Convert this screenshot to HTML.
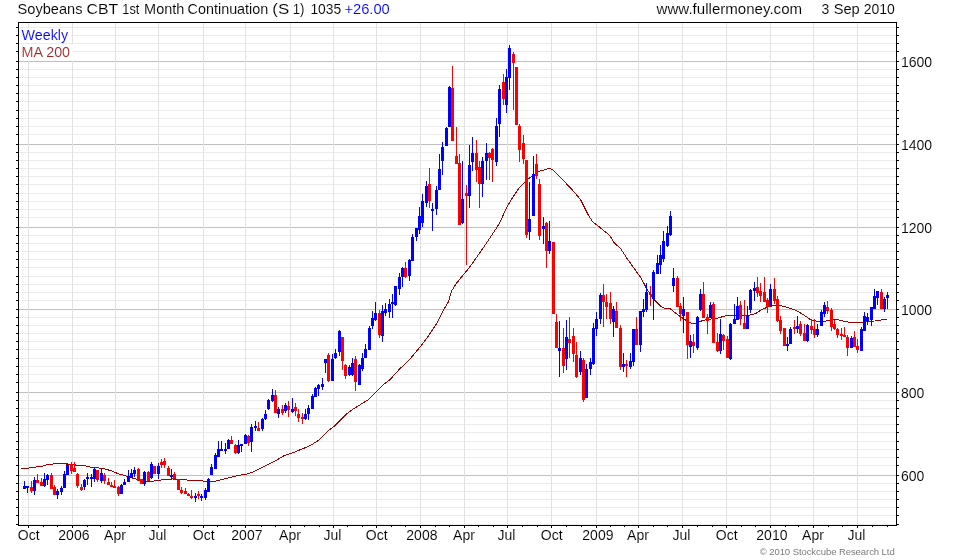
<!DOCTYPE html><html><head><meta charset="utf-8"><title>Soybeans CBT 1st Month Continuation</title>
<style>html,body{margin:0;padding:0;background:#fff}svg{display:block}text{font-family:"Liberation Sans",sans-serif;stroke:#fff;stroke-width:.1px}</style></head><body>
<svg width="980" height="560" viewBox="0 0 980 560">
<rect x="0" y="0" width="980" height="560" fill="#fff"/>
<g shape-rendering="crispEdges">
<rect x="19" y="27" width="877" height="1" fill="#ebebeb"/>
<rect x="19" y="35" width="877" height="1" fill="#ebebeb"/>
<rect x="19" y="43" width="877" height="1" fill="#ebebeb"/>
<rect x="19" y="51" width="877" height="1" fill="#ebebeb"/>
<rect x="19" y="69" width="877" height="1" fill="#ebebeb"/>
<rect x="19" y="77" width="877" height="1" fill="#ebebeb"/>
<rect x="19" y="85" width="877" height="1" fill="#ebebeb"/>
<rect x="19" y="93" width="877" height="1" fill="#ebebeb"/>
<rect x="19" y="101" width="877" height="1" fill="#ebebeb"/>
<rect x="19" y="110" width="877" height="1" fill="#ebebeb"/>
<rect x="19" y="118" width="877" height="1" fill="#ebebeb"/>
<rect x="19" y="126" width="877" height="1" fill="#ebebeb"/>
<rect x="19" y="134" width="877" height="1" fill="#ebebeb"/>
<rect x="19" y="152" width="877" height="1" fill="#ebebeb"/>
<rect x="19" y="160" width="877" height="1" fill="#ebebeb"/>
<rect x="19" y="168" width="877" height="1" fill="#ebebeb"/>
<rect x="19" y="176" width="877" height="1" fill="#ebebeb"/>
<rect x="19" y="184" width="877" height="1" fill="#ebebeb"/>
<rect x="19" y="193" width="877" height="1" fill="#ebebeb"/>
<rect x="19" y="201" width="877" height="1" fill="#ebebeb"/>
<rect x="19" y="209" width="877" height="1" fill="#ebebeb"/>
<rect x="19" y="217" width="877" height="1" fill="#ebebeb"/>
<rect x="19" y="235" width="877" height="1" fill="#ebebeb"/>
<rect x="19" y="243" width="877" height="1" fill="#ebebeb"/>
<rect x="19" y="251" width="877" height="1" fill="#ebebeb"/>
<rect x="19" y="259" width="877" height="1" fill="#ebebeb"/>
<rect x="19" y="267" width="877" height="1" fill="#ebebeb"/>
<rect x="19" y="276" width="877" height="1" fill="#ebebeb"/>
<rect x="19" y="284" width="877" height="1" fill="#ebebeb"/>
<rect x="19" y="292" width="877" height="1" fill="#ebebeb"/>
<rect x="19" y="300" width="877" height="1" fill="#ebebeb"/>
<rect x="19" y="317" width="877" height="1" fill="#ebebeb"/>
<rect x="19" y="325" width="877" height="1" fill="#ebebeb"/>
<rect x="19" y="333" width="877" height="1" fill="#ebebeb"/>
<rect x="19" y="341" width="877" height="1" fill="#ebebeb"/>
<rect x="19" y="349" width="877" height="1" fill="#ebebeb"/>
<rect x="19" y="358" width="877" height="1" fill="#ebebeb"/>
<rect x="19" y="366" width="877" height="1" fill="#ebebeb"/>
<rect x="19" y="374" width="877" height="1" fill="#ebebeb"/>
<rect x="19" y="382" width="877" height="1" fill="#ebebeb"/>
<rect x="19" y="400" width="877" height="1" fill="#ebebeb"/>
<rect x="19" y="408" width="877" height="1" fill="#ebebeb"/>
<rect x="19" y="416" width="877" height="1" fill="#ebebeb"/>
<rect x="19" y="424" width="877" height="1" fill="#ebebeb"/>
<rect x="19" y="432" width="877" height="1" fill="#ebebeb"/>
<rect x="19" y="441" width="877" height="1" fill="#ebebeb"/>
<rect x="19" y="449" width="877" height="1" fill="#ebebeb"/>
<rect x="19" y="457" width="877" height="1" fill="#ebebeb"/>
<rect x="19" y="465" width="877" height="1" fill="#ebebeb"/>
<rect x="19" y="483" width="877" height="1" fill="#ebebeb"/>
<rect x="19" y="491" width="877" height="1" fill="#ebebeb"/>
<rect x="19" y="499" width="877" height="1" fill="#ebebeb"/>
<rect x="19" y="507" width="877" height="1" fill="#ebebeb"/>
<rect x="19" y="515" width="877" height="1" fill="#ebebeb"/>
<rect x="19" y="524" width="877" height="1" fill="#ebebeb"/>
<rect x="19" y="61" width="877" height="1" fill="#c0c0c0"/>
<rect x="19" y="144" width="877" height="1" fill="#c0c0c0"/>
<rect x="19" y="227" width="877" height="1" fill="#c0c0c0"/>
<rect x="19" y="309" width="877" height="1" fill="#c0c0c0"/>
<rect x="19" y="392" width="877" height="1" fill="#c0c0c0"/>
<rect x="19" y="475" width="877" height="1" fill="#c0c0c0"/>
<rect x="28" y="23" width="1" height="501" fill="#e1e1e1"/>
<rect x="72" y="23" width="1" height="501" fill="#e1e1e1"/>
<rect x="115" y="23" width="1" height="501" fill="#e1e1e1"/>
<rect x="158" y="23" width="1" height="501" fill="#e1e1e1"/>
<rect x="203" y="23" width="1" height="501" fill="#e1e1e1"/>
<rect x="245" y="23" width="1" height="501" fill="#e1e1e1"/>
<rect x="290" y="23" width="1" height="501" fill="#e1e1e1"/>
<rect x="333" y="23" width="1" height="501" fill="#e1e1e1"/>
<rect x="376" y="23" width="1" height="501" fill="#e1e1e1"/>
<rect x="420" y="23" width="1" height="501" fill="#e1e1e1"/>
<rect x="464" y="23" width="1" height="501" fill="#e1e1e1"/>
<rect x="507" y="23" width="1" height="501" fill="#e1e1e1"/>
<rect x="551" y="23" width="1" height="501" fill="#e1e1e1"/>
<rect x="596" y="23" width="1" height="501" fill="#e1e1e1"/>
<rect x="638" y="23" width="1" height="501" fill="#e1e1e1"/>
<rect x="682" y="23" width="1" height="501" fill="#e1e1e1"/>
<rect x="726" y="23" width="1" height="501" fill="#e1e1e1"/>
<rect x="770" y="23" width="1" height="501" fill="#e1e1e1"/>
<rect x="813" y="23" width="1" height="501" fill="#e1e1e1"/>
<rect x="857" y="23" width="1" height="501" fill="#e1e1e1"/>
</g>
<rect x="19" y="28" width="52" height="15" fill="#fff"/><rect x="19" y="44" width="54" height="17" fill="#fff"/>
<polyline points="21.0,468.5 28.9,468.5 29.1,467.5 35.9,467.5 36.1,466.5 42.9,466.5 43.1,465.5 45.9,465.5 46.1,464.5 52.9,464.5 53.1,463.5 66.4,463.5 66.6,464.5 75.4,464.5 75.6,465.5 85.9,465.5 86.1,466.5 93.7,467.4 103.7,468.6 110.9,470.7 118.0,473.6 126.6,476.1 136.6,479.3 143.7,481.4 150.9,481.4 158.3,480.4 165.4,479.3 172.6,479.0 176.9,479.3 186.9,480.0 204.0,481.1 215.4,481.1 222.6,479.3 229.7,477.6 236.9,475.7 246.1,474.3 252.6,472.1 261.1,467.9 268.3,464.3 276.9,460.0 284.0,455.7 290.7,453.6 298.6,450.4 305.7,447.5 312.9,443.9 320.0,439.3 325.0,434.3 330.0,429.3 335.7,425.0 341.4,419.3 347.1,413.6 352.9,409.3 358.6,405.7 364.3,402.1 368.6,399.6 375.7,392.1 382.9,385.0 390.0,379.6 399.3,369.3 408.6,360.7 420.0,347.1 428.6,335.7 437.1,322.9 444.3,308.6 448.6,301.4 451.4,291.4 455.7,284.3 461.4,277.1 468.6,268.6 475.7,258.6 484.3,246.4 491.4,235.7 497.1,227.1 500.7,220.7 505.7,209.3 511.4,199.3 518.6,188.6 525.7,181.0 532.9,175.3 538.6,171.4 544.3,170.0 549.3,168.3 552.9,170.0 558.6,175.7 565.7,182.9 574.3,192.1 580.7,200.0 584.3,207.1 588.6,215.7 592.9,222.1 598.6,226.4 610.0,235.7 614.3,242.9 620.7,248.6 627.1,258.6 634.3,268.6 641.4,278.6 647.1,289.5 654.3,300.0 658.6,304.3 662.9,307.9 670.0,308.5 677.1,314.3 684.3,319.3 691.4,323.1 697.1,323.1 702.9,320.3 711.4,318.9 718.6,317.9 725.7,315.7 737.1,315.4 748.6,315.4 755.7,313.6 762.9,308.9 768.6,306.9 774.3,305.3 781.4,305.7 788.6,307.9 795.7,310.4 802.9,314.3 810.0,319.3 817.1,321.4 824.3,321.4 831.4,319.7 837.1,319.3 842.9,321.1 850.0,322.4 860.0,322.4 868.6,321.7 877.1,320.7 882.9,319.7 886.9,319.3" fill="none" stroke="#990000" stroke-width="1" shape-rendering="crispEdges"/>
<g shape-rendering="crispEdges">
<rect x="24" y="481" width="1" height="8" fill="#0000ff"/><rect x="23" y="486" width="3" height="3" fill="#0000ff"/>
<rect x="27" y="486" width="1" height="7" fill="#0000ff"/><rect x="26" y="486" width="3" height="2" fill="#0000ff"/>
<rect x="31" y="481" width="1" height="12" fill="#ff0000"/><rect x="30" y="487" width="3" height="4" fill="#ff0000"/>
<rect x="34" y="477" width="1" height="18" fill="#0000ff"/><rect x="33" y="480" width="3" height="11" fill="#0000ff"/>
<rect x="37" y="474" width="1" height="9" fill="#ff0000"/><rect x="36" y="480" width="3" height="3" fill="#ff0000"/>
<rect x="41" y="478" width="1" height="8" fill="#ff0000"/><rect x="40" y="482" width="3" height="4" fill="#ff0000"/>
<rect x="44" y="473" width="1" height="14" fill="#0000ff"/><rect x="43" y="479" width="3" height="7" fill="#0000ff"/>
<rect x="47" y="474" width="1" height="11" fill="#0000ff"/><rect x="46" y="475" width="3" height="5" fill="#0000ff"/>
<rect x="51" y="473" width="1" height="16" fill="#ff0000"/><rect x="50" y="475" width="3" height="14" fill="#ff0000"/>
<rect x="54" y="485" width="1" height="10" fill="#ff0000"/><rect x="53" y="487" width="3" height="8" fill="#ff0000"/>
<rect x="57" y="489" width="1" height="10" fill="#0000ff"/><rect x="56" y="491" width="3" height="4" fill="#0000ff"/>
<rect x="61" y="486" width="1" height="9" fill="#0000ff"/><rect x="60" y="488" width="3" height="4" fill="#0000ff"/>
<rect x="64" y="471" width="1" height="17" fill="#0000ff"/><rect x="63" y="474" width="3" height="14" fill="#0000ff"/>
<rect x="67" y="463" width="1" height="12" fill="#0000ff"/><rect x="66" y="465" width="3" height="10" fill="#0000ff"/>
<rect x="71" y="462" width="1" height="12" fill="#ff0000"/><rect x="70" y="464" width="3" height="7" fill="#ff0000"/>
<rect x="74" y="462" width="1" height="10" fill="#ff0000"/><rect x="73" y="468" width="3" height="4" fill="#ff0000"/>
<rect x="77" y="473" width="1" height="15" fill="#ff0000"/><rect x="76" y="474" width="3" height="12" fill="#ff0000"/>
<rect x="81" y="484" width="1" height="7" fill="#ff0000"/><rect x="80" y="487" width="3" height="3" fill="#ff0000"/>
<rect x="84" y="479" width="1" height="11" fill="#0000ff"/><rect x="83" y="480" width="3" height="7" fill="#0000ff"/>
<rect x="87" y="473" width="1" height="12" fill="#0000ff"/><rect x="86" y="477" width="3" height="2" fill="#0000ff"/>
<rect x="91" y="474" width="1" height="13" fill="#0000ff"/><rect x="90" y="477" width="3" height="2" fill="#0000ff"/>
<rect x="94" y="468" width="1" height="14" fill="#0000ff"/><rect x="93" y="469" width="3" height="10" fill="#0000ff"/>
<rect x="97" y="470" width="1" height="12" fill="#ff0000"/><rect x="96" y="470" width="3" height="10" fill="#ff0000"/>
<rect x="101" y="469" width="1" height="14" fill="#0000ff"/><rect x="100" y="473" width="3" height="8" fill="#0000ff"/>
<rect x="104" y="473" width="1" height="11" fill="#ff0000"/><rect x="103" y="475" width="3" height="6" fill="#ff0000"/>
<rect x="108" y="478" width="1" height="7" fill="#ff0000"/><rect x="107" y="482" width="3" height="3" fill="#ff0000"/>
<rect x="111" y="482" width="1" height="5" fill="#ff0000"/><rect x="110" y="485" width="3" height="2" fill="#ff0000"/>
<rect x="114" y="480" width="1" height="8" fill="#ff0000"/><rect x="113" y="486" width="3" height="2" fill="#ff0000"/>
<rect x="118" y="486" width="1" height="10" fill="#ff0000"/><rect x="117" y="487" width="3" height="7" fill="#ff0000"/>
<rect x="121" y="484" width="1" height="10" fill="#0000ff"/><rect x="120" y="485" width="3" height="9" fill="#0000ff"/>
<rect x="124" y="479" width="1" height="6" fill="#0000ff"/><rect x="123" y="482" width="3" height="3" fill="#0000ff"/>
<rect x="128" y="470" width="1" height="12" fill="#0000ff"/><rect x="127" y="476" width="3" height="6" fill="#0000ff"/>
<rect x="131" y="469" width="1" height="9" fill="#0000ff"/><rect x="130" y="473" width="3" height="5" fill="#0000ff"/>
<rect x="134" y="467" width="1" height="10" fill="#0000ff"/><rect x="133" y="470" width="3" height="4" fill="#0000ff"/>
<rect x="138" y="468" width="1" height="13" fill="#ff0000"/><rect x="137" y="469" width="3" height="12" fill="#ff0000"/>
<rect x="141" y="479" width="1" height="5" fill="#ff0000"/><rect x="140" y="479" width="3" height="5" fill="#ff0000"/>
<rect x="144" y="471" width="1" height="15" fill="#0000ff"/><rect x="143" y="472" width="3" height="12" fill="#0000ff"/>
<rect x="148" y="471" width="1" height="10" fill="#ff0000"/><rect x="147" y="472" width="3" height="9" fill="#ff0000"/>
<rect x="151" y="462" width="1" height="17" fill="#0000ff"/><rect x="150" y="464" width="3" height="14" fill="#0000ff"/>
<rect x="154" y="466" width="1" height="8" fill="#ff0000"/><rect x="153" y="466" width="3" height="8" fill="#ff0000"/>
<rect x="158" y="463" width="1" height="16" fill="#0000ff"/><rect x="157" y="466" width="3" height="8" fill="#0000ff"/>
<rect x="161" y="459" width="1" height="9" fill="#ff0000"/><rect x="160" y="462" width="3" height="3" fill="#ff0000"/>
<rect x="164" y="458" width="1" height="10" fill="#ff0000"/><rect x="163" y="461" width="3" height="4" fill="#ff0000"/>
<rect x="168" y="466" width="1" height="10" fill="#ff0000"/><rect x="167" y="468" width="3" height="8" fill="#ff0000"/>
<rect x="171" y="469" width="1" height="10" fill="#0000ff"/><rect x="170" y="475" width="3" height="2" fill="#0000ff"/>
<rect x="174" y="472" width="1" height="8" fill="#ff0000"/><rect x="173" y="474" width="3" height="5" fill="#ff0000"/>
<rect x="178" y="479" width="1" height="11" fill="#ff0000"/><rect x="177" y="479" width="3" height="11" fill="#ff0000"/>
<rect x="181" y="487" width="1" height="7" fill="#ff0000"/><rect x="180" y="490" width="3" height="3" fill="#ff0000"/>
<rect x="185" y="488" width="1" height="6" fill="#ff0000"/><rect x="184" y="491" width="3" height="3" fill="#ff0000"/>
<rect x="188" y="493" width="1" height="3" fill="#ff0000"/><rect x="187" y="494" width="3" height="2" fill="#ff0000"/>
<rect x="191" y="490" width="1" height="9" fill="#ff0000"/><rect x="190" y="496" width="3" height="2" fill="#ff0000"/>
<rect x="195" y="493" width="1" height="9" fill="#0000ff"/><rect x="194" y="496" width="3" height="2" fill="#0000ff"/>
<rect x="198" y="491" width="1" height="8" fill="#ff0000"/><rect x="197" y="494" width="3" height="2" fill="#ff0000"/>
<rect x="201" y="494" width="1" height="7" fill="#0000ff"/><rect x="200" y="496" width="3" height="2" fill="#0000ff"/>
<rect x="205" y="488" width="1" height="12" fill="#0000ff"/><rect x="204" y="490" width="3" height="8" fill="#0000ff"/>
<rect x="208" y="478" width="1" height="14" fill="#0000ff"/><rect x="207" y="479" width="3" height="13" fill="#0000ff"/>
<rect x="211" y="464" width="1" height="11" fill="#0000ff"/><rect x="210" y="467" width="3" height="8" fill="#0000ff"/>
<rect x="215" y="453" width="1" height="16" fill="#0000ff"/><rect x="214" y="455" width="3" height="14" fill="#0000ff"/>
<rect x="218" y="441" width="1" height="16" fill="#0000ff"/><rect x="217" y="449" width="3" height="8" fill="#0000ff"/>
<rect x="221" y="441" width="1" height="10" fill="#0000ff"/><rect x="220" y="449" width="3" height="2" fill="#0000ff"/>
<rect x="225" y="443" width="1" height="11" fill="#0000ff"/><rect x="224" y="449" width="3" height="2" fill="#0000ff"/>
<rect x="228" y="439" width="1" height="10" fill="#0000ff"/><rect x="227" y="440" width="3" height="9" fill="#0000ff"/>
<rect x="231" y="436" width="1" height="8" fill="#ff0000"/><rect x="230" y="440" width="3" height="4" fill="#ff0000"/>
<rect x="235" y="444" width="1" height="10" fill="#ff0000"/><rect x="234" y="445" width="3" height="8" fill="#ff0000"/>
<rect x="238" y="440" width="1" height="14" fill="#0000ff"/><rect x="237" y="445" width="3" height="8" fill="#0000ff"/>
<rect x="241" y="444" width="1" height="8" fill="#0000ff"/><rect x="240" y="444" width="3" height="2" fill="#0000ff"/>
<rect x="245" y="434" width="1" height="10" fill="#0000ff"/><rect x="244" y="435" width="3" height="9" fill="#0000ff"/>
<rect x="248" y="435" width="1" height="11" fill="#ff0000"/><rect x="247" y="436" width="3" height="7" fill="#ff0000"/>
<rect x="251" y="424" width="1" height="28" fill="#0000ff"/><rect x="250" y="427" width="3" height="15" fill="#0000ff"/>
<rect x="255" y="421" width="1" height="10" fill="#0000ff"/><rect x="254" y="426" width="3" height="2" fill="#0000ff"/>
<rect x="258" y="422" width="1" height="9" fill="#ff0000"/><rect x="257" y="428" width="3" height="3" fill="#ff0000"/>
<rect x="262" y="418" width="1" height="13" fill="#0000ff"/><rect x="261" y="419" width="3" height="10" fill="#0000ff"/>
<rect x="265" y="410" width="1" height="10" fill="#0000ff"/><rect x="264" y="414" width="3" height="5" fill="#0000ff"/>
<rect x="268" y="399" width="1" height="11" fill="#0000ff"/><rect x="267" y="400" width="3" height="9" fill="#0000ff"/>
<rect x="272" y="389" width="1" height="13" fill="#0000ff"/><rect x="271" y="395" width="3" height="6" fill="#0000ff"/>
<rect x="275" y="390" width="1" height="23" fill="#ff0000"/><rect x="274" y="395" width="3" height="18" fill="#ff0000"/>
<rect x="278" y="407" width="1" height="11" fill="#0000ff"/><rect x="277" y="409" width="3" height="5" fill="#0000ff"/>
<rect x="282" y="405" width="1" height="10" fill="#ff0000"/><rect x="281" y="409" width="3" height="4" fill="#ff0000"/>
<rect x="285" y="403" width="1" height="10" fill="#0000ff"/><rect x="284" y="405" width="3" height="6" fill="#0000ff"/>
<rect x="288" y="401" width="1" height="16" fill="#ff0000"/><rect x="287" y="406" width="3" height="4" fill="#ff0000"/>
<rect x="292" y="398" width="1" height="15" fill="#0000ff"/><rect x="291" y="409" width="3" height="3" fill="#0000ff"/>
<rect x="295" y="403" width="1" height="13" fill="#ff0000"/><rect x="294" y="407" width="3" height="4" fill="#ff0000"/>
<rect x="298" y="409" width="1" height="13" fill="#ff0000"/><rect x="297" y="414" width="3" height="4" fill="#ff0000"/>
<rect x="302" y="413" width="1" height="11" fill="#ff0000"/><rect x="301" y="417" width="3" height="2" fill="#ff0000"/>
<rect x="305" y="409" width="1" height="11" fill="#0000ff"/><rect x="304" y="414" width="3" height="5" fill="#0000ff"/>
<rect x="308" y="405" width="1" height="15" fill="#0000ff"/><rect x="307" y="408" width="3" height="6" fill="#0000ff"/>
<rect x="312" y="394" width="1" height="15" fill="#0000ff"/><rect x="311" y="396" width="3" height="13" fill="#0000ff"/>
<rect x="315" y="387" width="1" height="10" fill="#0000ff"/><rect x="314" y="388" width="3" height="9" fill="#0000ff"/>
<rect x="318" y="384" width="1" height="12" fill="#0000ff"/><rect x="317" y="385" width="3" height="4" fill="#0000ff"/>
<rect x="322" y="378" width="1" height="12" fill="#0000ff"/><rect x="321" y="384" width="3" height="3" fill="#0000ff"/>
<rect x="325" y="359" width="1" height="14" fill="#0000ff"/><rect x="324" y="359" width="3" height="4" fill="#0000ff"/>
<rect x="328" y="353" width="1" height="29" fill="#ff0000"/><rect x="327" y="355" width="3" height="26" fill="#ff0000"/>
<rect x="332" y="354" width="1" height="27" fill="#0000ff"/><rect x="331" y="359" width="3" height="22" fill="#0000ff"/>
<rect x="335" y="349" width="1" height="10" fill="#0000ff"/><rect x="334" y="353" width="3" height="5" fill="#0000ff"/>
<rect x="339" y="330" width="1" height="26" fill="#0000ff"/><rect x="338" y="331" width="3" height="21" fill="#0000ff"/>
<rect x="342" y="337" width="1" height="33" fill="#ff0000"/><rect x="341" y="337" width="3" height="24" fill="#ff0000"/>
<rect x="345" y="364" width="1" height="15" fill="#ff0000"/><rect x="344" y="365" width="3" height="11" fill="#ff0000"/>
<rect x="349" y="365" width="1" height="11" fill="#0000ff"/><rect x="348" y="367" width="3" height="8" fill="#0000ff"/>
<rect x="352" y="358" width="1" height="18" fill="#0000ff"/><rect x="351" y="363" width="3" height="12" fill="#0000ff"/>
<rect x="355" y="356" width="1" height="35" fill="#ff0000"/><rect x="354" y="359" width="3" height="23" fill="#ff0000"/>
<rect x="359" y="364" width="1" height="21" fill="#0000ff"/><rect x="358" y="365" width="3" height="20" fill="#0000ff"/>
<rect x="362" y="353" width="1" height="18" fill="#0000ff"/><rect x="361" y="358" width="3" height="11" fill="#0000ff"/>
<rect x="365" y="344" width="1" height="14" fill="#0000ff"/><rect x="364" y="349" width="3" height="9" fill="#0000ff"/>
<rect x="369" y="326" width="1" height="24" fill="#0000ff"/><rect x="368" y="328" width="3" height="22" fill="#0000ff"/>
<rect x="372" y="311" width="1" height="18" fill="#0000ff"/><rect x="371" y="318" width="3" height="8" fill="#0000ff"/>
<rect x="375" y="302" width="1" height="19" fill="#0000ff"/><rect x="374" y="313" width="3" height="7" fill="#0000ff"/>
<rect x="379" y="310" width="1" height="28" fill="#ff0000"/><rect x="378" y="313" width="3" height="22" fill="#ff0000"/>
<rect x="382" y="305" width="1" height="37" fill="#0000ff"/><rect x="381" y="311" width="3" height="25" fill="#0000ff"/>
<rect x="385" y="303" width="1" height="13" fill="#0000ff"/><rect x="384" y="309" width="3" height="4" fill="#0000ff"/>
<rect x="389" y="299" width="1" height="19" fill="#0000ff"/><rect x="388" y="304" width="3" height="8" fill="#0000ff"/>
<rect x="392" y="294" width="1" height="24" fill="#0000ff"/><rect x="391" y="302" width="3" height="2" fill="#0000ff"/>
<rect x="395" y="286" width="1" height="20" fill="#0000ff"/><rect x="394" y="286" width="3" height="19" fill="#0000ff"/>
<rect x="399" y="273" width="1" height="22" fill="#0000ff"/><rect x="398" y="277" width="3" height="12" fill="#0000ff"/>
<rect x="402" y="267" width="1" height="20" fill="#0000ff"/><rect x="401" y="268" width="3" height="9" fill="#0000ff"/>
<rect x="405" y="262" width="1" height="16" fill="#ff0000"/><rect x="404" y="268" width="3" height="9" fill="#ff0000"/>
<rect x="409" y="259" width="1" height="22" fill="#0000ff"/><rect x="408" y="260" width="3" height="16" fill="#0000ff"/>
<rect x="412" y="234" width="1" height="27" fill="#0000ff"/><rect x="411" y="237" width="3" height="24" fill="#0000ff"/>
<rect x="416" y="228" width="1" height="13" fill="#0000ff"/><rect x="415" y="228" width="3" height="9" fill="#0000ff"/>
<rect x="419" y="207" width="1" height="27" fill="#0000ff"/><rect x="418" y="216" width="3" height="14" fill="#0000ff"/>
<rect x="422" y="194" width="1" height="33" fill="#0000ff"/><rect x="421" y="201" width="3" height="22" fill="#0000ff"/>
<rect x="426" y="181" width="1" height="26" fill="#0000ff"/><rect x="425" y="186" width="3" height="17" fill="#0000ff"/>
<rect x="429" y="168" width="1" height="40" fill="#ff0000"/><rect x="428" y="184" width="3" height="17" fill="#ff0000"/>
<rect x="432" y="203" width="1" height="28" fill="#0000ff"/><rect x="431" y="209" width="3" height="2" fill="#0000ff"/>
<rect x="436" y="186" width="1" height="29" fill="#0000ff"/><rect x="435" y="190" width="3" height="19" fill="#0000ff"/>
<rect x="439" y="154" width="1" height="36" fill="#0000ff"/><rect x="438" y="169" width="3" height="21" fill="#0000ff"/>
<rect x="442" y="142" width="1" height="33" fill="#0000ff"/><rect x="441" y="147" width="3" height="14" fill="#0000ff"/>
<rect x="446" y="127" width="1" height="19" fill="#0000ff"/><rect x="445" y="128" width="3" height="18" fill="#0000ff"/>
<rect x="449" y="86" width="1" height="41" fill="#0000ff"/><rect x="448" y="87" width="3" height="40" fill="#0000ff"/>
<rect x="452" y="66" width="1" height="75" fill="#ff0000"/><rect x="451" y="88" width="3" height="53" fill="#ff0000"/>
<rect x="456" y="127" width="1" height="37" fill="#ff0000"/><rect x="455" y="156" width="3" height="8" fill="#ff0000"/>
<rect x="459" y="154" width="1" height="71" fill="#ff0000"/><rect x="458" y="163" width="3" height="62" fill="#ff0000"/>
<rect x="462" y="161" width="1" height="63" fill="#0000ff"/><rect x="461" y="199" width="3" height="24" fill="#0000ff"/>
<rect x="466" y="185" width="1" height="80" fill="#ff0000"/><rect x="465" y="193" width="3" height="3" fill="#ff0000"/>
<rect x="469" y="145" width="1" height="63" fill="#0000ff"/><rect x="468" y="165" width="3" height="31" fill="#0000ff"/>
<rect x="472" y="137" width="1" height="34" fill="#0000ff"/><rect x="471" y="153" width="3" height="9" fill="#0000ff"/>
<rect x="476" y="140" width="1" height="42" fill="#ff0000"/><rect x="475" y="153" width="3" height="17" fill="#ff0000"/>
<rect x="479" y="161" width="1" height="47" fill="#ff0000"/><rect x="478" y="167" width="3" height="17" fill="#ff0000"/>
<rect x="482" y="157" width="1" height="40" fill="#0000ff"/><rect x="481" y="161" width="3" height="23" fill="#0000ff"/>
<rect x="486" y="143" width="1" height="37" fill="#0000ff"/><rect x="485" y="153" width="3" height="8" fill="#0000ff"/>
<rect x="489" y="152" width="1" height="28" fill="#ff0000"/><rect x="488" y="153" width="3" height="5" fill="#ff0000"/>
<rect x="492" y="148" width="1" height="34" fill="#ff0000"/><rect x="491" y="149" width="3" height="11" fill="#ff0000"/>
<rect x="496" y="118" width="1" height="48" fill="#0000ff"/><rect x="495" y="126" width="3" height="36" fill="#0000ff"/>
<rect x="499" y="85" width="1" height="52" fill="#0000ff"/><rect x="498" y="89" width="3" height="35" fill="#0000ff"/>
<rect x="503" y="74" width="1" height="31" fill="#ff0000"/><rect x="502" y="82" width="3" height="17" fill="#ff0000"/>
<rect x="506" y="69" width="1" height="44" fill="#0000ff"/><rect x="505" y="77" width="3" height="28" fill="#0000ff"/>
<rect x="509" y="45" width="1" height="45" fill="#0000ff"/><rect x="508" y="48" width="3" height="30" fill="#0000ff"/>
<rect x="513" y="52" width="1" height="58" fill="#ff0000"/><rect x="512" y="54" width="3" height="9" fill="#ff0000"/>
<rect x="516" y="67" width="1" height="58" fill="#ff0000"/><rect x="515" y="67" width="3" height="58" fill="#ff0000"/>
<rect x="519" y="124" width="1" height="38" fill="#ff0000"/><rect x="518" y="126" width="3" height="24" fill="#ff0000"/>
<rect x="523" y="135" width="1" height="29" fill="#ff0000"/><rect x="522" y="143" width="3" height="16" fill="#ff0000"/>
<rect x="526" y="160" width="1" height="78" fill="#ff0000"/><rect x="525" y="160" width="3" height="75" fill="#ff0000"/>
<rect x="529" y="182" width="1" height="58" fill="#0000ff"/><rect x="528" y="219" width="3" height="13" fill="#0000ff"/>
<rect x="533" y="156" width="1" height="60" fill="#0000ff"/><rect x="532" y="174" width="3" height="42" fill="#0000ff"/>
<rect x="536" y="154" width="1" height="25" fill="#ff0000"/><rect x="535" y="164" width="3" height="12" fill="#ff0000"/>
<rect x="539" y="179" width="1" height="61" fill="#ff0000"/><rect x="538" y="184" width="3" height="52" fill="#ff0000"/>
<rect x="543" y="217" width="1" height="27" fill="#0000ff"/><rect x="542" y="226" width="3" height="3" fill="#0000ff"/>
<rect x="546" y="222" width="1" height="46" fill="#ff0000"/><rect x="545" y="223" width="3" height="28" fill="#ff0000"/>
<rect x="549" y="221" width="1" height="33" fill="#0000ff"/><rect x="548" y="241" width="3" height="10" fill="#0000ff"/>
<rect x="553" y="242" width="1" height="72" fill="#ff0000"/><rect x="552" y="242" width="3" height="72" fill="#ff0000"/>
<rect x="556" y="314" width="1" height="34" fill="#ff0000"/><rect x="555" y="322" width="3" height="26" fill="#ff0000"/>
<rect x="559" y="321" width="1" height="56" fill="#0000ff"/><rect x="558" y="348" width="3" height="3" fill="#0000ff"/>
<rect x="563" y="328" width="1" height="45" fill="#ff0000"/><rect x="562" y="348" width="3" height="18" fill="#ff0000"/>
<rect x="566" y="320" width="1" height="50" fill="#0000ff"/><rect x="565" y="337" width="3" height="22" fill="#0000ff"/>
<rect x="569" y="317" width="1" height="41" fill="#ff0000"/><rect x="568" y="339" width="3" height="4" fill="#ff0000"/>
<rect x="573" y="328" width="1" height="34" fill="#ff0000"/><rect x="572" y="336" width="3" height="18" fill="#ff0000"/>
<rect x="576" y="342" width="1" height="36" fill="#ff0000"/><rect x="575" y="355" width="3" height="22" fill="#ff0000"/>
<rect x="580" y="351" width="1" height="24" fill="#0000ff"/><rect x="579" y="358" width="3" height="14" fill="#0000ff"/>
<rect x="583" y="358" width="1" height="44" fill="#ff0000"/><rect x="582" y="360" width="3" height="40" fill="#ff0000"/>
<rect x="586" y="364" width="1" height="34" fill="#0000ff"/><rect x="585" y="369" width="3" height="29" fill="#0000ff"/>
<rect x="590" y="358" width="1" height="17" fill="#0000ff"/><rect x="589" y="362" width="3" height="7" fill="#0000ff"/>
<rect x="593" y="323" width="1" height="42" fill="#0000ff"/><rect x="592" y="328" width="3" height="36" fill="#0000ff"/>
<rect x="596" y="312" width="1" height="24" fill="#0000ff"/><rect x="595" y="319" width="3" height="10" fill="#0000ff"/>
<rect x="600" y="293" width="1" height="31" fill="#0000ff"/><rect x="599" y="295" width="3" height="24" fill="#0000ff"/>
<rect x="603" y="284" width="1" height="43" fill="#ff0000"/><rect x="602" y="295" width="3" height="7" fill="#ff0000"/>
<rect x="606" y="294" width="1" height="25" fill="#ff0000"/><rect x="605" y="302" width="3" height="5" fill="#ff0000"/>
<rect x="610" y="292" width="1" height="32" fill="#ff0000"/><rect x="609" y="303" width="3" height="16" fill="#ff0000"/>
<rect x="613" y="306" width="1" height="31" fill="#0000ff"/><rect x="612" y="309" width="3" height="13" fill="#0000ff"/>
<rect x="616" y="302" width="1" height="26" fill="#ff0000"/><rect x="615" y="311" width="3" height="17" fill="#ff0000"/>
<rect x="620" y="325" width="1" height="45" fill="#ff0000"/><rect x="619" y="328" width="3" height="39" fill="#ff0000"/>
<rect x="623" y="353" width="1" height="19" fill="#0000ff"/><rect x="622" y="364" width="3" height="3" fill="#0000ff"/>
<rect x="626" y="360" width="1" height="17" fill="#ff0000"/><rect x="625" y="364" width="3" height="2" fill="#ff0000"/>
<rect x="630" y="353" width="1" height="16" fill="#0000ff"/><rect x="629" y="361" width="3" height="6" fill="#0000ff"/>
<rect x="633" y="329" width="1" height="37" fill="#0000ff"/><rect x="632" y="329" width="3" height="33" fill="#0000ff"/>
<rect x="636" y="317" width="1" height="28" fill="#ff0000"/><rect x="635" y="329" width="3" height="16" fill="#ff0000"/>
<rect x="640" y="311" width="1" height="41" fill="#0000ff"/><rect x="639" y="311" width="3" height="34" fill="#0000ff"/>
<rect x="643" y="299" width="1" height="18" fill="#0000ff"/><rect x="642" y="309" width="3" height="3" fill="#0000ff"/>
<rect x="646" y="283" width="1" height="29" fill="#0000ff"/><rect x="645" y="292" width="3" height="18" fill="#0000ff"/>
<rect x="650" y="286" width="1" height="20" fill="#ff0000"/><rect x="649" y="294" width="3" height="1" fill="#ff0000"/>
<rect x="653" y="270" width="1" height="50" fill="#0000ff"/><rect x="652" y="272" width="3" height="27" fill="#0000ff"/>
<rect x="657" y="255" width="1" height="19" fill="#0000ff"/><rect x="656" y="263" width="3" height="11" fill="#0000ff"/>
<rect x="660" y="245" width="1" height="29" fill="#0000ff"/><rect x="659" y="255" width="3" height="10" fill="#0000ff"/>
<rect x="663" y="231" width="1" height="31" fill="#0000ff"/><rect x="662" y="241" width="3" height="18" fill="#0000ff"/>
<rect x="667" y="226" width="1" height="21" fill="#0000ff"/><rect x="666" y="233" width="3" height="13" fill="#0000ff"/>
<rect x="670" y="211" width="1" height="25" fill="#0000ff"/><rect x="669" y="216" width="3" height="19" fill="#0000ff"/>
<rect x="673" y="268" width="1" height="24" fill="#0000ff"/><rect x="672" y="278" width="3" height="8" fill="#0000ff"/>
<rect x="677" y="276" width="1" height="31" fill="#ff0000"/><rect x="676" y="278" width="3" height="29" fill="#ff0000"/>
<rect x="680" y="303" width="1" height="18" fill="#ff0000"/><rect x="679" y="306" width="3" height="8" fill="#ff0000"/>
<rect x="683" y="297" width="1" height="36" fill="#0000ff"/><rect x="682" y="309" width="3" height="7" fill="#0000ff"/>
<rect x="687" y="312" width="1" height="47" fill="#ff0000"/><rect x="686" y="312" width="3" height="33" fill="#ff0000"/>
<rect x="690" y="335" width="1" height="23" fill="#0000ff"/><rect x="689" y="341" width="3" height="6" fill="#0000ff"/>
<rect x="693" y="334" width="1" height="19" fill="#ff0000"/><rect x="692" y="342" width="3" height="4" fill="#ff0000"/>
<rect x="697" y="316" width="1" height="34" fill="#0000ff"/><rect x="696" y="317" width="3" height="31" fill="#0000ff"/>
<rect x="700" y="289" width="1" height="22" fill="#0000ff"/><rect x="699" y="294" width="3" height="16" fill="#0000ff"/>
<rect x="703" y="282" width="1" height="36" fill="#ff0000"/><rect x="702" y="294" width="3" height="24" fill="#ff0000"/>
<rect x="707" y="314" width="1" height="20" fill="#ff0000"/><rect x="706" y="317" width="3" height="4" fill="#ff0000"/>
<rect x="710" y="302" width="1" height="16" fill="#0000ff"/><rect x="709" y="305" width="3" height="13" fill="#0000ff"/>
<rect x="713" y="302" width="1" height="41" fill="#ff0000"/><rect x="712" y="304" width="3" height="39" fill="#ff0000"/>
<rect x="717" y="333" width="1" height="19" fill="#ff0000"/><rect x="716" y="342" width="3" height="9" fill="#ff0000"/>
<rect x="720" y="319" width="1" height="35" fill="#0000ff"/><rect x="719" y="334" width="3" height="17" fill="#0000ff"/>
<rect x="723" y="334" width="1" height="16" fill="#ff0000"/><rect x="722" y="335" width="3" height="6" fill="#ff0000"/>
<rect x="727" y="336" width="1" height="22" fill="#ff0000"/><rect x="726" y="339" width="3" height="19" fill="#ff0000"/>
<rect x="730" y="323" width="1" height="37" fill="#0000ff"/><rect x="729" y="324" width="3" height="35" fill="#0000ff"/>
<rect x="734" y="304" width="1" height="20" fill="#0000ff"/><rect x="733" y="319" width="3" height="5" fill="#0000ff"/>
<rect x="737" y="297" width="1" height="23" fill="#0000ff"/><rect x="736" y="306" width="3" height="14" fill="#0000ff"/>
<rect x="740" y="301" width="1" height="24" fill="#ff0000"/><rect x="739" y="305" width="3" height="14" fill="#ff0000"/>
<rect x="744" y="300" width="1" height="29" fill="#ff0000"/><rect x="743" y="323" width="3" height="6" fill="#ff0000"/>
<rect x="747" y="306" width="1" height="23" fill="#0000ff"/><rect x="746" y="316" width="3" height="13" fill="#0000ff"/>
<rect x="750" y="289" width="1" height="24" fill="#0000ff"/><rect x="749" y="290" width="3" height="20" fill="#0000ff"/>
<rect x="754" y="282" width="1" height="19" fill="#0000ff"/><rect x="753" y="288" width="3" height="3" fill="#0000ff"/>
<rect x="757" y="277" width="1" height="20" fill="#ff0000"/><rect x="756" y="287" width="3" height="6" fill="#ff0000"/>
<rect x="760" y="283" width="1" height="19" fill="#ff0000"/><rect x="759" y="291" width="3" height="5" fill="#ff0000"/>
<rect x="764" y="277" width="1" height="25" fill="#ff0000"/><rect x="763" y="292" width="3" height="10" fill="#ff0000"/>
<rect x="767" y="298" width="1" height="15" fill="#ff0000"/><rect x="766" y="300" width="3" height="7" fill="#ff0000"/>
<rect x="770" y="284" width="1" height="22" fill="#0000ff"/><rect x="769" y="289" width="3" height="17" fill="#0000ff"/>
<rect x="774" y="278" width="1" height="26" fill="#ff0000"/><rect x="773" y="289" width="3" height="12" fill="#ff0000"/>
<rect x="777" y="296" width="1" height="26" fill="#ff0000"/><rect x="776" y="299" width="3" height="22" fill="#ff0000"/>
<rect x="780" y="316" width="1" height="18" fill="#ff0000"/><rect x="779" y="320" width="3" height="11" fill="#ff0000"/>
<rect x="784" y="328" width="1" height="18" fill="#ff0000"/><rect x="783" y="328" width="3" height="18" fill="#ff0000"/>
<rect x="787" y="337" width="1" height="14" fill="#0000ff"/><rect x="786" y="344" width="3" height="2" fill="#0000ff"/>
<rect x="790" y="327" width="1" height="17" fill="#0000ff"/><rect x="789" y="329" width="3" height="15" fill="#0000ff"/>
<rect x="794" y="320" width="1" height="14" fill="#ff0000"/><rect x="793" y="327" width="3" height="2" fill="#ff0000"/>
<rect x="797" y="316" width="1" height="17" fill="#0000ff"/><rect x="796" y="326" width="3" height="3" fill="#0000ff"/>
<rect x="800" y="321" width="1" height="15" fill="#ff0000"/><rect x="799" y="324" width="3" height="10" fill="#ff0000"/>
<rect x="804" y="324" width="1" height="17" fill="#ff0000"/><rect x="803" y="333" width="3" height="8" fill="#ff0000"/>
<rect x="807" y="324" width="1" height="18" fill="#0000ff"/><rect x="806" y="325" width="3" height="16" fill="#0000ff"/>
<rect x="811" y="319" width="1" height="15" fill="#ff0000"/><rect x="810" y="326" width="3" height="4" fill="#ff0000"/>
<rect x="814" y="319" width="1" height="19" fill="#ff0000"/><rect x="813" y="329" width="3" height="6" fill="#ff0000"/>
<rect x="817" y="324" width="1" height="13" fill="#0000ff"/><rect x="816" y="329" width="3" height="6" fill="#0000ff"/>
<rect x="821" y="310" width="1" height="16" fill="#0000ff"/><rect x="820" y="312" width="3" height="14" fill="#0000ff"/>
<rect x="824" y="302" width="1" height="15" fill="#0000ff"/><rect x="823" y="305" width="3" height="9" fill="#0000ff"/>
<rect x="827" y="301" width="1" height="13" fill="#ff0000"/><rect x="826" y="307" width="3" height="4" fill="#ff0000"/>
<rect x="831" y="308" width="1" height="23" fill="#ff0000"/><rect x="830" y="310" width="3" height="17" fill="#ff0000"/>
<rect x="834" y="320" width="1" height="10" fill="#ff0000"/><rect x="833" y="324" width="3" height="5" fill="#ff0000"/>
<rect x="837" y="328" width="1" height="10" fill="#ff0000"/><rect x="836" y="329" width="3" height="6" fill="#ff0000"/>
<rect x="841" y="328" width="1" height="12" fill="#ff0000"/><rect x="840" y="334" width="3" height="2" fill="#ff0000"/>
<rect x="844" y="327" width="1" height="10" fill="#ff0000"/><rect x="843" y="335" width="3" height="2" fill="#ff0000"/>
<rect x="847" y="335" width="1" height="21" fill="#ff0000"/><rect x="846" y="337" width="3" height="11" fill="#ff0000"/>
<rect x="851" y="336" width="1" height="12" fill="#0000ff"/><rect x="850" y="338" width="3" height="10" fill="#0000ff"/>
<rect x="854" y="331" width="1" height="16" fill="#ff0000"/><rect x="853" y="337" width="3" height="10" fill="#ff0000"/>
<rect x="857" y="339" width="1" height="14" fill="#ff0000"/><rect x="856" y="346" width="3" height="4" fill="#ff0000"/>
<rect x="861" y="327" width="1" height="24" fill="#0000ff"/><rect x="860" y="329" width="3" height="22" fill="#0000ff"/>
<rect x="864" y="312" width="1" height="19" fill="#0000ff"/><rect x="863" y="316" width="3" height="15" fill="#0000ff"/>
<rect x="867" y="313" width="1" height="12" fill="#0000ff"/><rect x="866" y="317" width="3" height="4" fill="#0000ff"/>
<rect x="871" y="307" width="1" height="19" fill="#0000ff"/><rect x="870" y="307" width="3" height="13" fill="#0000ff"/>
<rect x="874" y="289" width="1" height="20" fill="#0000ff"/><rect x="873" y="296" width="3" height="13" fill="#0000ff"/>
<rect x="877" y="291" width="1" height="14" fill="#0000ff"/><rect x="876" y="291" width="3" height="7" fill="#0000ff"/>
<rect x="881" y="289" width="1" height="20" fill="#ff0000"/><rect x="880" y="292" width="3" height="17" fill="#ff0000"/>
<rect x="884" y="297" width="1" height="15" fill="#0000ff"/><rect x="883" y="299" width="3" height="10" fill="#0000ff"/>
<rect x="887" y="292" width="1" height="17" fill="#0000ff"/><rect x="886" y="295" width="3" height="3" fill="#0000ff"/>
</g>
<g shape-rendering="crispEdges" fill="#000">
<rect x="18" y="22" width="879" height="1"/>
<rect x="18" y="525" width="879" height="1"/>
<rect x="18" y="22" width="1" height="504"/>
<rect x="896" y="22" width="1" height="504"/>
<rect x="16" y="27" width="2" height="1"/><rect x="897" y="27" width="2" height="1"/>
<rect x="16" y="35" width="2" height="1"/><rect x="897" y="35" width="2" height="1"/>
<rect x="16" y="43" width="2" height="1"/><rect x="897" y="43" width="2" height="1"/>
<rect x="16" y="51" width="2" height="1"/><rect x="897" y="51" width="2" height="1"/>
<rect x="16" y="61" width="2" height="1"/><rect x="897" y="61" width="2" height="1"/>
<rect x="16" y="69" width="2" height="1"/><rect x="897" y="69" width="2" height="1"/>
<rect x="16" y="77" width="2" height="1"/><rect x="897" y="77" width="2" height="1"/>
<rect x="16" y="85" width="2" height="1"/><rect x="897" y="85" width="2" height="1"/>
<rect x="16" y="93" width="2" height="1"/><rect x="897" y="93" width="2" height="1"/>
<rect x="16" y="101" width="2" height="1"/><rect x="897" y="101" width="2" height="1"/>
<rect x="16" y="110" width="2" height="1"/><rect x="897" y="110" width="2" height="1"/>
<rect x="16" y="118" width="2" height="1"/><rect x="897" y="118" width="2" height="1"/>
<rect x="16" y="126" width="2" height="1"/><rect x="897" y="126" width="2" height="1"/>
<rect x="16" y="134" width="2" height="1"/><rect x="897" y="134" width="2" height="1"/>
<rect x="16" y="144" width="2" height="1"/><rect x="897" y="144" width="2" height="1"/>
<rect x="16" y="152" width="2" height="1"/><rect x="897" y="152" width="2" height="1"/>
<rect x="16" y="160" width="2" height="1"/><rect x="897" y="160" width="2" height="1"/>
<rect x="16" y="168" width="2" height="1"/><rect x="897" y="168" width="2" height="1"/>
<rect x="16" y="176" width="2" height="1"/><rect x="897" y="176" width="2" height="1"/>
<rect x="16" y="184" width="2" height="1"/><rect x="897" y="184" width="2" height="1"/>
<rect x="16" y="193" width="2" height="1"/><rect x="897" y="193" width="2" height="1"/>
<rect x="16" y="201" width="2" height="1"/><rect x="897" y="201" width="2" height="1"/>
<rect x="16" y="209" width="2" height="1"/><rect x="897" y="209" width="2" height="1"/>
<rect x="16" y="217" width="2" height="1"/><rect x="897" y="217" width="2" height="1"/>
<rect x="16" y="227" width="2" height="1"/><rect x="897" y="227" width="2" height="1"/>
<rect x="16" y="235" width="2" height="1"/><rect x="897" y="235" width="2" height="1"/>
<rect x="16" y="243" width="2" height="1"/><rect x="897" y="243" width="2" height="1"/>
<rect x="16" y="251" width="2" height="1"/><rect x="897" y="251" width="2" height="1"/>
<rect x="16" y="259" width="2" height="1"/><rect x="897" y="259" width="2" height="1"/>
<rect x="16" y="267" width="2" height="1"/><rect x="897" y="267" width="2" height="1"/>
<rect x="16" y="276" width="2" height="1"/><rect x="897" y="276" width="2" height="1"/>
<rect x="16" y="284" width="2" height="1"/><rect x="897" y="284" width="2" height="1"/>
<rect x="16" y="292" width="2" height="1"/><rect x="897" y="292" width="2" height="1"/>
<rect x="16" y="300" width="2" height="1"/><rect x="897" y="300" width="2" height="1"/>
<rect x="16" y="309" width="2" height="1"/><rect x="897" y="309" width="2" height="1"/>
<rect x="16" y="317" width="2" height="1"/><rect x="897" y="317" width="2" height="1"/>
<rect x="16" y="325" width="2" height="1"/><rect x="897" y="325" width="2" height="1"/>
<rect x="16" y="333" width="2" height="1"/><rect x="897" y="333" width="2" height="1"/>
<rect x="16" y="341" width="2" height="1"/><rect x="897" y="341" width="2" height="1"/>
<rect x="16" y="349" width="2" height="1"/><rect x="897" y="349" width="2" height="1"/>
<rect x="16" y="358" width="2" height="1"/><rect x="897" y="358" width="2" height="1"/>
<rect x="16" y="366" width="2" height="1"/><rect x="897" y="366" width="2" height="1"/>
<rect x="16" y="374" width="2" height="1"/><rect x="897" y="374" width="2" height="1"/>
<rect x="16" y="382" width="2" height="1"/><rect x="897" y="382" width="2" height="1"/>
<rect x="16" y="392" width="2" height="1"/><rect x="897" y="392" width="2" height="1"/>
<rect x="16" y="400" width="2" height="1"/><rect x="897" y="400" width="2" height="1"/>
<rect x="16" y="408" width="2" height="1"/><rect x="897" y="408" width="2" height="1"/>
<rect x="16" y="416" width="2" height="1"/><rect x="897" y="416" width="2" height="1"/>
<rect x="16" y="424" width="2" height="1"/><rect x="897" y="424" width="2" height="1"/>
<rect x="16" y="432" width="2" height="1"/><rect x="897" y="432" width="2" height="1"/>
<rect x="16" y="441" width="2" height="1"/><rect x="897" y="441" width="2" height="1"/>
<rect x="16" y="449" width="2" height="1"/><rect x="897" y="449" width="2" height="1"/>
<rect x="16" y="457" width="2" height="1"/><rect x="897" y="457" width="2" height="1"/>
<rect x="16" y="465" width="2" height="1"/><rect x="897" y="465" width="2" height="1"/>
<rect x="16" y="475" width="2" height="1"/><rect x="897" y="475" width="2" height="1"/>
<rect x="16" y="483" width="2" height="1"/><rect x="897" y="483" width="2" height="1"/>
<rect x="16" y="491" width="2" height="1"/><rect x="897" y="491" width="2" height="1"/>
<rect x="16" y="499" width="2" height="1"/><rect x="897" y="499" width="2" height="1"/>
<rect x="16" y="507" width="2" height="1"/><rect x="897" y="507" width="2" height="1"/>
<rect x="16" y="515" width="2" height="1"/><rect x="897" y="515" width="2" height="1"/>
<rect x="16" y="524" width="2" height="1"/><rect x="897" y="524" width="2" height="1"/>
<rect x="28" y="526" width="1" height="2"/>
<rect x="43" y="526" width="1" height="1"/>
<rect x="57" y="526" width="1" height="1"/>
<rect x="72" y="526" width="1" height="2"/>
<rect x="87" y="526" width="1" height="1"/>
<rect x="100" y="526" width="1" height="1"/>
<rect x="115" y="526" width="1" height="2"/>
<rect x="129" y="526" width="1" height="1"/>
<rect x="144" y="526" width="1" height="1"/>
<rect x="158" y="526" width="1" height="2"/>
<rect x="173" y="526" width="1" height="1"/>
<rect x="188" y="526" width="1" height="1"/>
<rect x="203" y="526" width="1" height="2"/>
<rect x="217" y="526" width="1" height="1"/>
<rect x="231" y="526" width="1" height="1"/>
<rect x="245" y="526" width="1" height="2"/>
<rect x="261" y="526" width="1" height="1"/>
<rect x="275" y="526" width="1" height="1"/>
<rect x="290" y="526" width="1" height="2"/>
<rect x="304" y="526" width="1" height="1"/>
<rect x="319" y="526" width="1" height="1"/>
<rect x="333" y="526" width="1" height="2"/>
<rect x="347" y="526" width="1" height="1"/>
<rect x="362" y="526" width="1" height="1"/>
<rect x="376" y="526" width="1" height="2"/>
<rect x="391" y="526" width="1" height="1"/>
<rect x="405" y="526" width="1" height="1"/>
<rect x="420" y="526" width="1" height="2"/>
<rect x="435" y="526" width="1" height="1"/>
<rect x="449" y="526" width="1" height="1"/>
<rect x="464" y="526" width="1" height="2"/>
<rect x="478" y="526" width="1" height="1"/>
<rect x="493" y="526" width="1" height="1"/>
<rect x="507" y="526" width="1" height="2"/>
<rect x="522" y="526" width="1" height="1"/>
<rect x="537" y="526" width="1" height="1"/>
<rect x="551" y="526" width="1" height="2"/>
<rect x="566" y="526" width="1" height="1"/>
<rect x="581" y="526" width="1" height="1"/>
<rect x="596" y="526" width="1" height="2"/>
<rect x="610" y="526" width="1" height="1"/>
<rect x="624" y="526" width="1" height="1"/>
<rect x="638" y="526" width="1" height="2"/>
<rect x="653" y="526" width="1" height="1"/>
<rect x="667" y="526" width="1" height="1"/>
<rect x="682" y="526" width="1" height="2"/>
<rect x="697" y="526" width="1" height="1"/>
<rect x="712" y="526" width="1" height="1"/>
<rect x="726" y="526" width="1" height="2"/>
<rect x="741" y="526" width="1" height="1"/>
<rect x="755" y="526" width="1" height="1"/>
<rect x="770" y="526" width="1" height="2"/>
<rect x="785" y="526" width="1" height="1"/>
<rect x="798" y="526" width="1" height="1"/>
<rect x="813" y="526" width="1" height="2"/>
<rect x="828" y="526" width="1" height="1"/>
<rect x="842" y="526" width="1" height="1"/>
<rect x="857" y="526" width="1" height="2"/>
<rect x="872" y="526" width="1" height="1"/>
<rect x="887" y="526" width="1" height="1"/>
</g>
<g font-size="14px" fill="#000">
<text x="17.6" y="14" fill="#000" textLength="64.9" lengthAdjust="spacingAndGlyphs">Soybeans</text>
<text x="86.6" y="14" fill="#000" textLength="31.6" lengthAdjust="spacingAndGlyphs">CBT</text>
<text x="122.3" y="14" fill="#000" textLength="17.0" lengthAdjust="spacingAndGlyphs">1st</text>
<text x="144.1" y="14" fill="#000" textLength="40.2" lengthAdjust="spacingAndGlyphs">Month</text>
<text x="187.6" y="14" fill="#000" textLength="80.7" lengthAdjust="spacingAndGlyphs">Continuation</text>
<text x="272.3" y="14" fill="#000" textLength="16.9" lengthAdjust="spacingAndGlyphs">(S</text>
<text x="292.7" y="14" fill="#000" textLength="11.7" lengthAdjust="spacingAndGlyphs">1)</text>
<text x="310.4" y="14" fill="#000" textLength="30.8" lengthAdjust="spacingAndGlyphs">1035</text>
<text x="344.4" y="14" fill="#0000ff" textLength="45.4" lengthAdjust="spacingAndGlyphs">+26.00</text>
<text x="656.6" y="14" fill="#000" textLength="145.5" lengthAdjust="spacingAndGlyphs">www.fullermoney.com</text>
<text x="821.6" y="14" fill="#000">3</text>
<text x="833.7" y="14" fill="#000" textLength="26.1" lengthAdjust="spacingAndGlyphs">Sep</text>
<text x="863.7" y="14" fill="#000" textLength="31.1" lengthAdjust="spacingAndGlyphs">2010</text>
<text x="21.6" y="40" fill="#0000ff" textLength="46.6" lengthAdjust="spacingAndGlyphs">Weekly</text>
<text x="21.5" y="57" fill="#a02828" textLength="48.6" lengthAdjust="spacingAndGlyphs">MA 200</text>
<text x="900.9" y="67">1600</text>
<text x="900.9" y="150">1400</text>
<text x="900.9" y="233">1200</text>
<text x="900.9" y="315">1000</text>
<text x="900.9" y="398">800</text>
<text x="900.9" y="481">600</text>
<text x="28.7" y="540" text-anchor="middle">Oct</text>
<text x="73.9" y="540" text-anchor="middle">2006</text>
<text x="115.0" y="540" text-anchor="middle">Apr</text>
<text x="157.4" y="540" text-anchor="middle">Jul</text>
<text x="203.7" y="540" text-anchor="middle">Oct</text>
<text x="246.9" y="540" text-anchor="middle">2007</text>
<text x="290.0" y="540" text-anchor="middle">Apr</text>
<text x="332.4" y="540" text-anchor="middle">Jul</text>
<text x="376.7" y="540" text-anchor="middle">Oct</text>
<text x="421.9" y="540" text-anchor="middle">2008</text>
<text x="464.0" y="540" text-anchor="middle">Apr</text>
<text x="506.4" y="540" text-anchor="middle">Jul</text>
<text x="551.7" y="540" text-anchor="middle">Oct</text>
<text x="597.9" y="540" text-anchor="middle">2009</text>
<text x="638.0" y="540" text-anchor="middle">Apr</text>
<text x="681.4" y="540" text-anchor="middle">Jul</text>
<text x="726.7" y="540" text-anchor="middle">Oct</text>
<text x="771.9" y="540" text-anchor="middle">2010</text>
<text x="813.0" y="540" text-anchor="middle">Apr</text>
<text x="856.4" y="540" text-anchor="middle">Jul</text>
</g>
<text x="759.7" y="555" font-size="9.5px" fill="#7c7c7c" style="stroke:none" textLength="135" lengthAdjust="spacing">© 2010 Stockcube Research Ltd</text>
</svg></body></html>
